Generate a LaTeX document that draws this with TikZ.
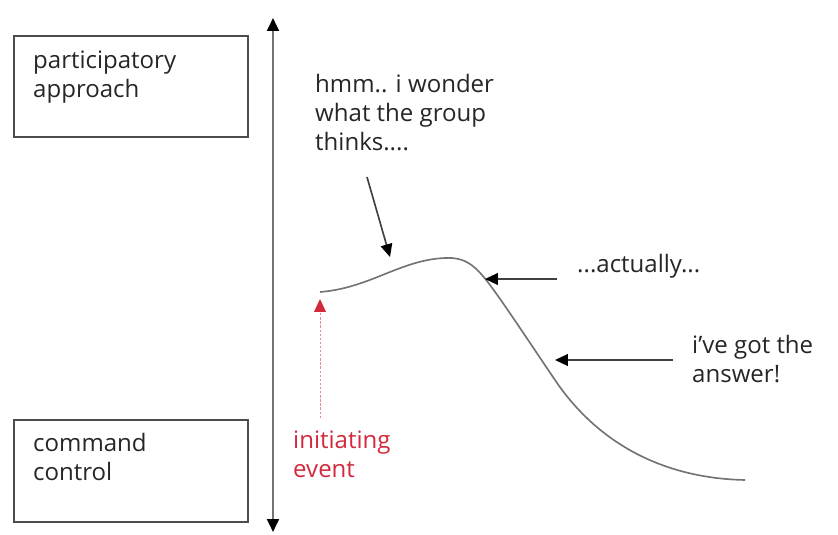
\documentclass[tikz,border=0pt]{standalone}
\usepackage{fontspec}
\setmainfont{Open Sans}
\usetikzlibrary{arrows.meta}

\definecolor{evtred}{HTML}{D22A3C}

\begin{document}
\begin{tikzpicture}[x=0.03cm, y=-0.03cm,
  box/.style={draw=black!70, line width=1.6pt},
  txt/.style={inner sep=0pt, align=left, anchor=base west, font=\fontsize{20.5}{24.5}\selectfont, text=black!85},
  axis/.style={draw=black!55, line width=2.2pt, {Triangle[length=11pt,width=10pt,black]}-{Triangle[length=11pt,width=10pt,black]}},
  note/.style={draw=black!75, line width=1.4pt, -{Triangle[length=11pt,width=10pt,black]}},
  curve/.style={draw=black!55, line width=1.4pt}]
\useasboundingbox (0,0) rectangle (838,535);

% scale boxes
\draw[box] (14,36) rectangle (248,137);
\draw[box] (14,420) rectangle (248,522);
\node[txt] (part) at (33,97) {participatory\\approach};
\node[txt] (cmd) at (33,480) {command\\control};

% axis
\coordinate (axtop) at (273,18);
\coordinate (axbot) at (273,532);
\draw[axis] (axbot) -- (axtop);

% response curve
\draw[curve] (320,292) .. controls (370,288) and (400,260) .. (445,258)
  .. controls (465,257) and (475,265) .. (490,285)
  .. controls (505,305) and (538,355) .. (555,380)
  .. controls (590,432) and (650,478) .. (745,480);

% comments
\node[txt] (hmm) at (315,150) {hmm.. i wonder\\what the group\\thinks....};
\node[txt] (act) at (577,272) {...actually...};
\node[txt] (ans) at (692,382) {i've got the\\answer!};
\node[txt, text=evtred] (evt) at (293,477) {initiating\\event};

\coordinate (hmmA) at (367,177);
\coordinate (hmmB) at (390,257);
\coordinate (actA) at (557,279);
\coordinate (actB) at (485,279);
\coordinate (ansA) at (673,360);
\coordinate (ansB) at (555,360);
\coordinate (evtA) at (320,418);
\coordinate (evtB) at (320,299);
\draw[note] (hmmA) -- (hmmB);
\draw[note] (actA) -- (actB);
\draw[note] (ansA) -- (ansB);
\draw[draw=evtred!55, line width=0.8pt, dash pattern=on 2pt off 1.5pt, -{Triangle[length=11pt,width=10pt,evtred]}] (evtA) -- (evtB);
\end{tikzpicture}
\end{document}
